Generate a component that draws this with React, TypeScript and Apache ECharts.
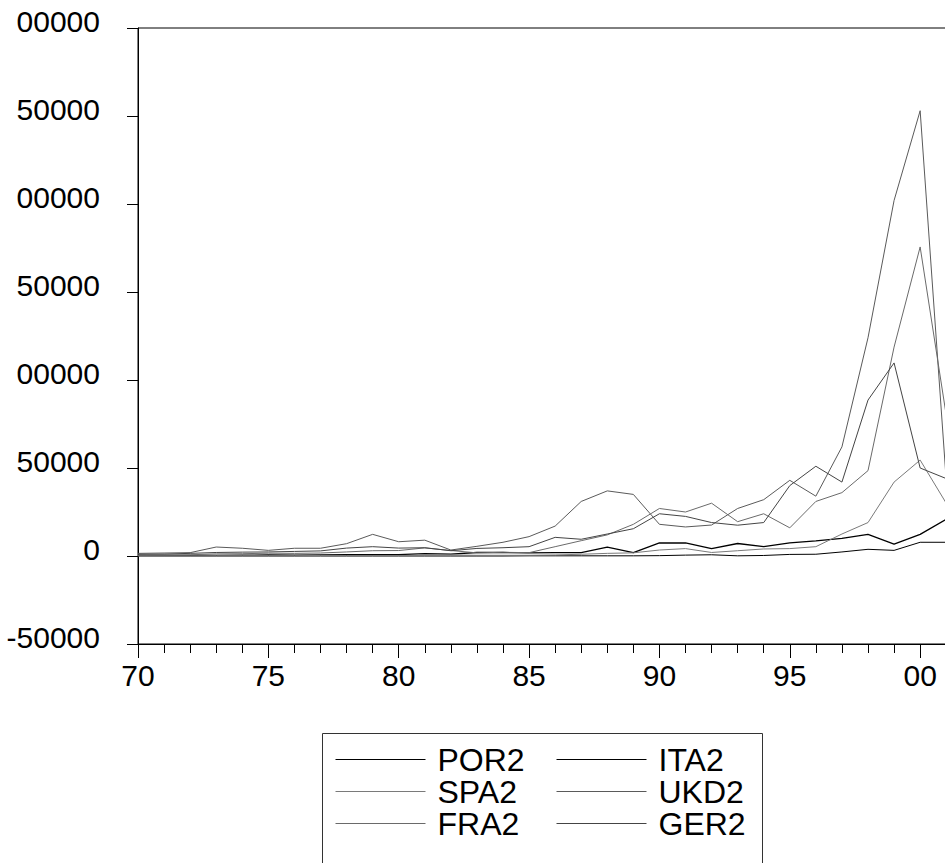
import React, { useEffect, useRef } from "react";
import * as echarts from "echarts";

const years = [
  1970, 1971, 1972, 1973, 1974, 1975, 1976, 1977, 1978, 1979, 1980, 1981, 1982, 1983, 1984, 1985,
  1986, 1987, 1988, 1989, 1990, 1991, 1992, 1993, 1994, 1995, 1996, 1997, 1998, 1999, 2000, 2001,
];

// values in thousands (multiplied below)
const por2 = [0, 0, 0, 0, 0, 0, 0, 0, 0, 0, 0, 0, 0, 0, 0, 0.1, 0.1, 0.1, 0.1, 0.1, 0.2, 0.5, 0.7, 0.1, 0.3, 0.9, 1.0, 2.3, 3.8, 3.2, 7.8, 7.8];
const ita2 = [0.3, 0.4, 0.4, 0.4, 0.5, 0.6, 0.5, 0.6, 0.7, 0.8, 0.8, 1.4, 1.1, 2.0, 2.0, 1.8, 1.9, 1.9, 5.0, 1.9, 7.4, 7.4, 4.2, 7.1, 5.3, 7.4, 8.6, 10.0, 12.3, 6.7, 12.3, 20.8];
const spa2 = [0.1, 0.1, 0.1, 0.2, 0.2, 0.2, 0.2, 0.3, 0.3, 0.3, 0.3, 0.4, 0.6, 0.4, 0.4, 0.4, 0.6, 1.0, 1.5, 1.8, 3.4, 4.2, 2.0, 3.0, 4.0, 4.2, 5.3, 12.5, 19.0, 42.0, 54.5, 30.0];
const ukd2 = [1.5, 1.7, 1.9, 5.1, 4.4, 3.2, 4.4, 4.4, 7.0, 12.3, 8.1, 9.0, 3.4, 5.5, 7.8, 11.0, 17.0, 31.0, 37.0, 35.0, 18.0, 16.5, 17.6, 27.0, 32.0, 43.0, 34.0, 62.0, 124.0, 202.0, 253.0, 43.0];
const fra2 = [0.4, 0.5, 0.7, 1.2, 1.3, 1.6, 1.5, 1.7, 2.3, 3.0, 3.1, 4.6, 3.1, 1.8, 2.1, 1.9, 5.3, 8.7, 12.0, 18.0, 27.0, 25.0, 30.0, 19.5, 24.0, 16.0, 31.0, 36.0, 48.5, 118.7, 175.6, 80.0];
const ger2 = [1.0, 1.1, 1.5, 2.0, 2.2, 2.3, 2.6, 2.9, 4.5, 5.3, 4.5, 4.7, 3.0, 4.3, 4.7, 5.3, 10.6, 9.5, 12.5, 15.5, 24.0, 22.5, 19.0, 17.5, 19.0, 40.0, 51.0, 42.0, 88.6, 109.7, 50.0, 44.0];

const seriesDefs = [
  { name: "POR2", values: por2, color: "#000000", width: 1 },
  { name: "ITA2", values: ita2, color: "#000000", width: 1.3 },
  { name: "SPA2", values: spa2, color: "#7a7a7a", width: 1 },
  { name: "UKD2", values: ukd2, color: "#5a5a5a", width: 1 },
  { name: "FRA2", values: fra2, color: "#6a6a6a", width: 1 },
  { name: "GER2", values: ger2, color: "#444444", width: 1 },
];

const leftLegend = ["POR2", "SPA2", "FRA2"];
const rightLegend = ["ITA2", "UKD2", "GER2"];

const FONT = "'Liberation Sans', Arial, sans-serif";

export default function App() {
  const ref = useRef<HTMLDivElement>(null);
  useEffect(() => {
    if (!ref.current) return;
    const chart = echarts.init(ref.current, undefined, { renderer: "svg" });
    const legendCommon = {
      orient: "vertical" as const,
      padding: 0,
      itemWidth: 90,
      itemHeight: 12,
      itemGap: 0,
      itemStyle: { opacity: 0, borderWidth: 0 },
      lineStyle: { width: 1 },
      textStyle: {
        fontSize: 32,
        fontFamily: FONT,
        color: "#000",
        lineHeight: 32,
        padding: [0, 0, 0, 7],
      },
      selectedMode: false,
    };
    chart.setOption({
      animation: false,
      backgroundColor: "#fff",
      grid: {
        left: 138,
        top: 28,
        width: 912.5,
        height: 616,
        show: true,
        borderColor: "#000",
        borderWidth: 1,
        backgroundColor: "transparent",
      },
      xAxis: {
        type: "value",
        min: 1970,
        max: 2005,
        interval: 5,
        axisLine: { show: true, onZero: false, lineStyle: { color: "#000", width: 1 } },
        axisTick: { show: true, length: 14, lineStyle: { color: "#000" } },
        minorTick: { show: true, splitNumber: 5, length: 9, lineStyle: { color: "#000" } },
        splitLine: { show: false },
        axisLabel: {
          margin: 16,
          fontSize: 30,
          fontFamily: FONT,
          color: "#000",
          formatter: (v: number) => (v % 5 === 0 && v <= 2000 ? String(v).slice(2) : ""),
        },
      },
      yAxis: {
        type: "value",
        min: -50000,
        max: 300000,
        interval: 50000,
        axisLine: { show: true, onZero: false, lineStyle: { color: "#000", width: 1 } },
        axisTick: { show: true, length: 11, lineStyle: { color: "#000" } },
        splitLine: { show: false },
        axisLabel: {
          margin: 38,
          fontSize: 30,
          fontFamily: FONT,
          color: "#000",
          verticalAlign: "bottom",
          lineHeight: 14,
          formatter: (v: number) => {
            const s = String(v);
            return s.length === 6 && s[0] !== "-" ? s.slice(1) : s;
          },
        },
      },
      legend: [
        { ...legendCommon, data: leftLegend, left: 335, top: 743.5 },
        { ...legendCommon, data: rightLegend, left: 556, top: 743.5 },
      ],
      graphic: [
        {
          type: "rect",
          shape: { x: 322.5, y: 733.5, width: 440, height: 200 },
          style: { fill: "none", stroke: "#333", lineWidth: 1 },
          z: 100,
        },
      ],
      series: seriesDefs.map((s) => ({
        name: s.name,
        type: "line",
        symbol: "none",
        showSymbol: false,
        data: years.map((y, i) => [y, s.values[i] * 1000]),
        lineStyle: { color: s.color, width: s.width },
        itemStyle: { color: s.color },
        emphasis: { disabled: true },
      })),
    });
    return () => chart.dispose();
  }, []);
  return (
    <div
      style={{
        position: "fixed",
        left: 0,
        top: 0,
        width: 945,
        height: 863,
        overflow: "hidden",
        background: "#fff",
      }}
    >
      <div ref={ref} style={{ width: 1100, height: 900 }} />
    </div>
  );
}
